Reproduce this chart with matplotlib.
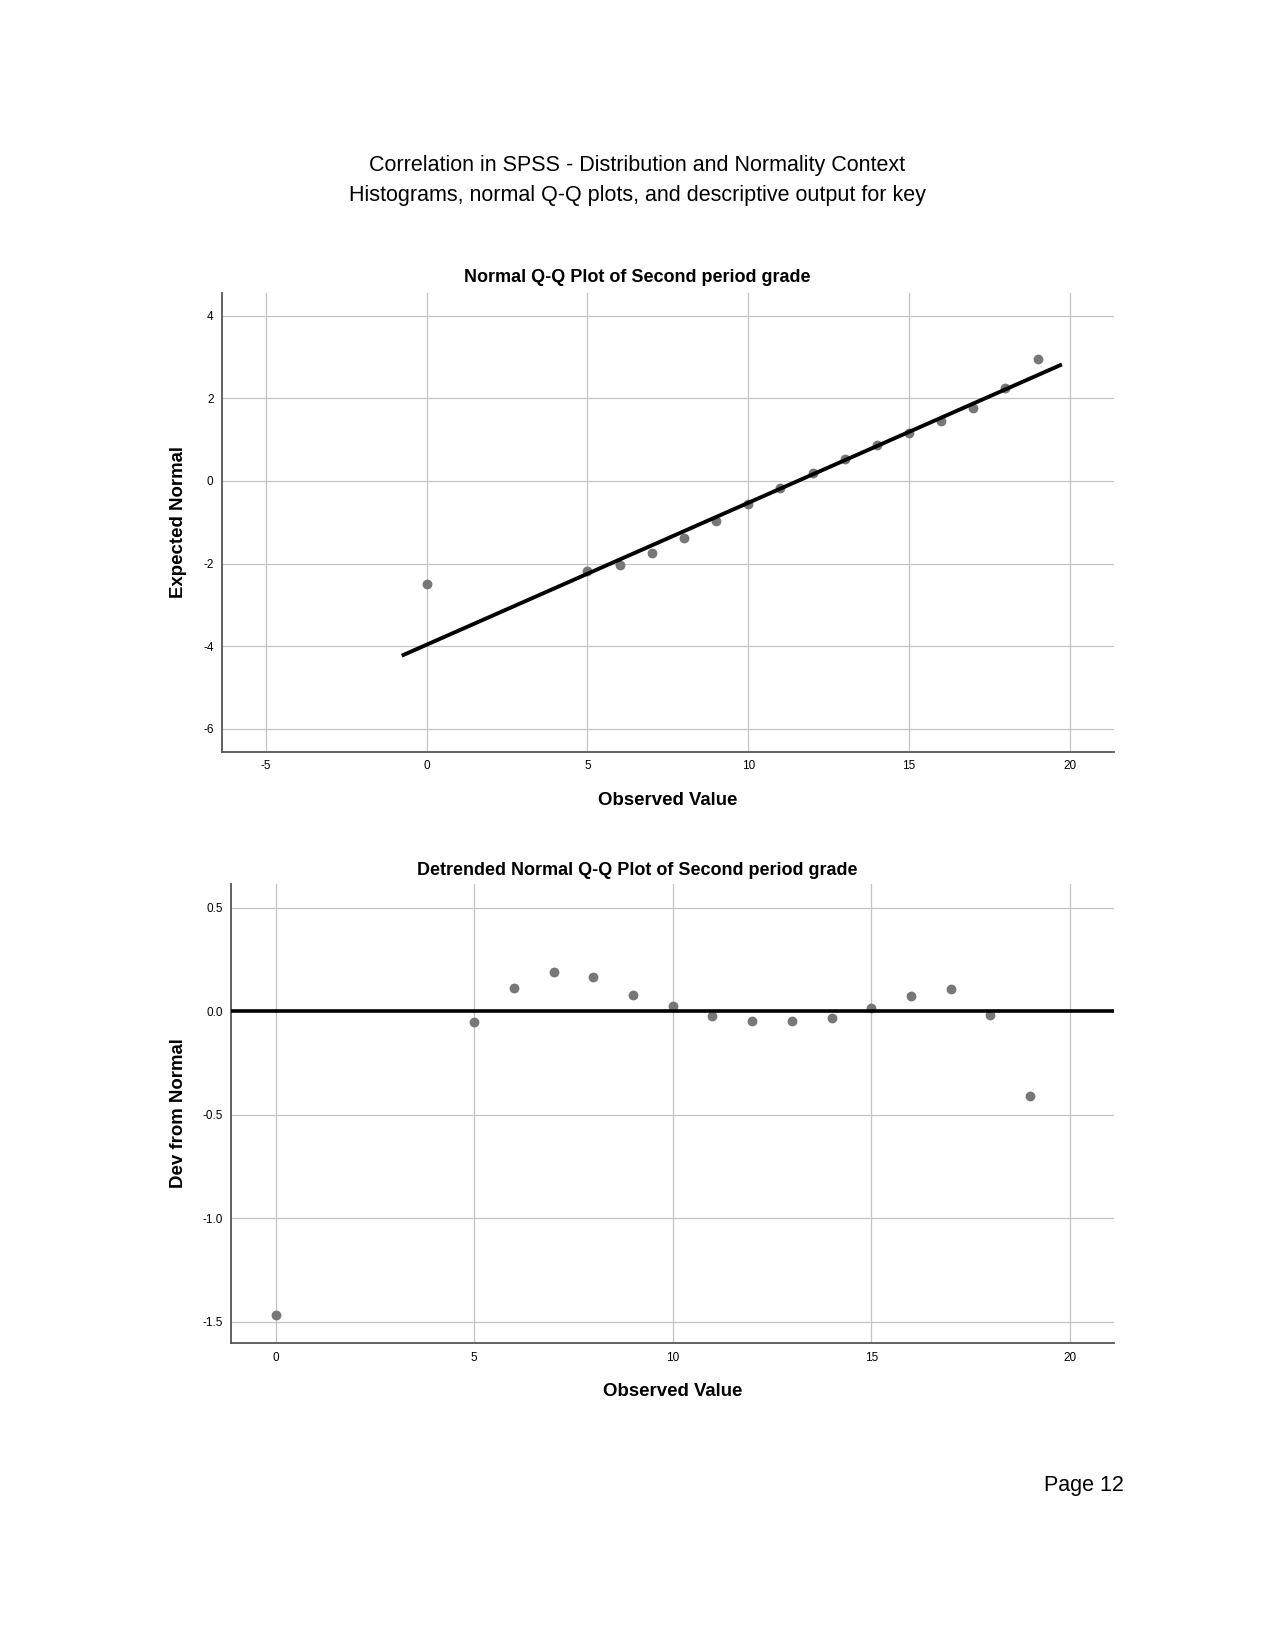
import matplotlib
matplotlib.use('Agg')
import matplotlib.pyplot as plt

plt.rcParams['font.family'] = ['Liberation Sans', 'DejaVu Sans']

# observed grades and their expected normal scores
observed = [0, 5, 6, 7, 8, 9, 10, 11, 12, 13, 14, 15, 16, 17, 18, 19]
expected_normal = [-2.50, -2.19, -2.03, -1.75, -1.37, -0.98, -0.55, -0.17,
                   0.20, 0.54, 0.88, 1.17, 1.44, 1.76, 2.24, 2.96]
dev_from_normal = [-1.467, -0.053, 0.112, 0.191, 0.165, 0.079, 0.024, -0.022,
                   -0.045, -0.045, -0.031, 0.017, 0.074, 0.105, -0.017, -0.409]

# reference line of the normal fit
fit_mean = 11.54
fit_sd = 2.913
line_x = [-0.72, 19.7]

qq_xticks = [-5, 0, 5, 10, 15, 20]
qq_yticks = [-6, -4, -2, 0, 2, 4]
dt_xticks = [0, 5, 10, 15, 20]
dt_yticks = [-1.5, -1.0, -0.5, 0.0, 0.5]

point_color = '#777777'
grid_color = '#c4c4c4'
spine_color = '#555555'


def style_axes(ax):
	for s in ['top', 'right']:
		ax.spines[s].set_visible(False)
	for s in ['left', 'bottom']:
		ax.spines[s].set_color(spine_color)
		ax.spines[s].set_linewidth(1.3)
	ax.grid(True, color=grid_color, linewidth=0.9)
	ax.set_axisbelow(True)
	ax.tick_params(length=0, labelsize=8.5, pad=6)


fig = plt.figure(figsize=(12.75, 16.5), dpi=100)

fig.text(0.5, 0.900, 'Correlation in SPSS - Distribution and Normality Context',
	ha='center', va='center', fontsize=15.5)
fig.text(0.5, 0.8814, 'Histograms, normal Q-Q plots, and descriptive output for key',
	ha='center', va='center', fontsize=15.5)

# normal Q-Q plot
ax1 = fig.add_axes([0.174, 0.5442, 0.6996, 0.2785])
style_axes(ax1)
ax1.scatter(observed, expected_normal, s=50, color=point_color, zorder=3, linewidths=0)
line_y = [(x - fit_mean) / fit_sd for x in line_x]
ax1.plot(line_x, line_y, color='black', linewidth=2.8, zorder=4)
ax1.set_xlim(-6.37, 21.37)
ax1.set_ylim(-6.56, 4.56)
ax1.set_xticks(qq_xticks)
ax1.set_yticks(qq_yticks)
ax1.set_xticklabels([str(v) for v in qq_xticks])
ax1.set_yticklabels([str(v) for v in qq_yticks])
ax1.set_xlabel('Observed Value', fontsize=13.4, fontweight='bold', va='center')
ax1.xaxis.set_label_coords(0.5, -0.106)
ax1.set_ylabel('Expected Normal', fontsize=13.4, fontweight='bold', va='center')
ax1.yaxis.set_label_coords(-0.0482, 0.5)
fig.text(0.5, 0.8317, 'Normal Q-Q Plot of Second period grade',
	ha='center', va='center', fontsize=13, fontweight='bold')

# detrended Q-Q plot
ax2 = fig.add_axes([0.1815, 0.1858, 0.6922, 0.2787])
style_axes(ax2)
ax2.scatter(observed, dev_from_normal, s=50, color=point_color, zorder=3, linewidths=0)
ax2.axhline(0, color='black', linewidth=2.6, zorder=4)
ax2.set_xlim(-1.11, 21.11)
ax2.set_ylim(-1.606, 0.617)
ax2.set_xticks(dt_xticks)
ax2.set_yticks(dt_yticks)
ax2.set_xticklabels([str(v) for v in dt_xticks])
ax2.set_yticklabels(['%.1f' % v for v in dt_yticks])
ax2.set_xlabel('Observed Value', fontsize=13.4, fontweight='bold', va='center')
ax2.xaxis.set_label_coords(0.5, -0.1045)
ax2.set_ylabel('Dev from Normal', fontsize=13.4, fontweight='bold', va='center')
ax2.yaxis.set_label_coords(-0.0594, 0.5)
fig.text(0.5, 0.4727, 'Detrended Normal Q-Q Plot of Second period grade',
	ha='center', va='center', fontsize=13, fontweight='bold')

fig.text(0.8813, 0.0997, 'Page 12', ha='right', va='center', fontsize=15.5)

plt.savefig('out.png', dpi=100)
